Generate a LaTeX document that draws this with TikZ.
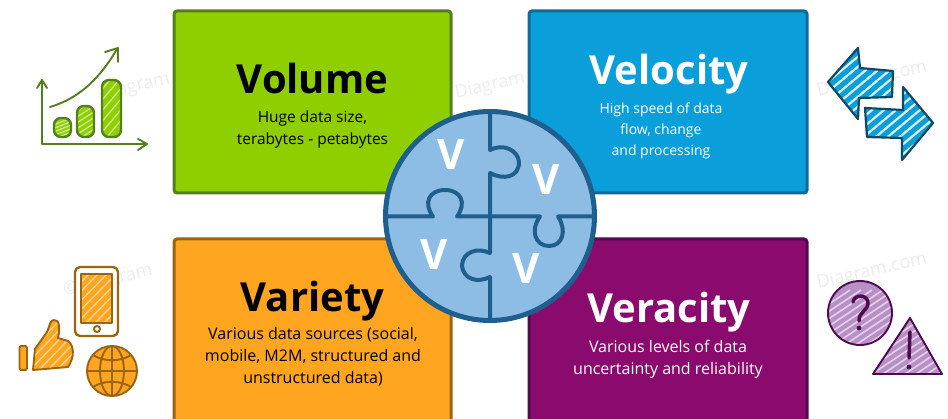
\documentclass[tikz,border=0pt]{standalone}
\usepackage{fontspec}
\setmainfont{Open Sans}
\newcommand{\fs}[1]{\fontsize{#1}{#1}\selectfont}
\definecolor{gF}{HTML}{8FCF00}\definecolor{gD}{HTML}{557F1E}
\definecolor{bF}{HTML}{0A9FDB}\definecolor{bD}{HTML}{0F6A94}
\definecolor{oF}{HTML}{FFA51F}\definecolor{oD}{HTML}{99650F}
\definecolor{pF}{HTML}{8A0A6E}\definecolor{pD}{HTML}{4E0C4E}
\definecolor{cF}{HTML}{8DBDE5}\definecolor{cD}{HTML}{1E5F8E}
\definecolor{pL}{HTML}{B88FC6}\definecolor{wm}{HTML}{EDEDED}
\tikzset{
  card/.style={draw=#1D,fill=#1F,line width=3pt,rounded corners=3pt},
  ttl/.style={font=\bfseries\fs{40},anchor=base,inner sep=0pt},
  body/.style={font=\fs{#1},align=center,anchor=center,inner sep=0pt,execute at begin node=\setlength{\baselineskip}{22pt}},
  vv/.style={font=\bfseries\fs{42},text=white,anchor=center,inner sep=0pt},
  mark text/.style={font=\fs{18},text=wm,rotate=13,anchor=center,inner sep=0pt},
  puz/.style={draw=cD,line width=4pt,line cap=round,line join=round},
  ic/.style={line width=1.9pt,line join=round,line cap=round},
  hatch/.style={draw=white,line width=1.3pt,opacity=.55}
}
\newcommand{\hatching}[4]{% x0 y0 x1 y1 : white diagonal strokes
  \foreach \k in {0,9,...,200}{\draw[hatch] (#1+\k-40,#4) -- (#1+\k+8,#2);}}
\begin{document}
\begin{tikzpicture}[x=1pt,y=-1pt]
\useasboundingbox (0,0) rectangle (948,419);
\clip (0,0) rectangle (948,419);
\fill[white] (0,0) rectangle (948,419);

% watermarks
\node[mark text] (w1) at (135,87) {Diagram};
\node[mark text] (w2) at (490,86) {Diagram};
\node[mark text] (w3) at (872,80) {Diagram.com};
\node[mark text] (w4) at (108,281) {© Diagram};
\node[mark text] (w5) at (872,272) {Diagram.com};

% cards
\draw[card=g] (174,11) rectangle (451,193);
\draw[card=b] (529,11) rectangle (807,193);
\draw[card=o] (174,239) rectangle (451,430);
\draw[card=p] (529,239) rectangle (807,430);

\node[ttl,text=black] (t1) at (312.5,94) {Volume};
\node[ttl,text=white] (t2) at (669,85) {Velocity};
\node[ttl,text=black] (t3) at (312.5,312) {Variety};
\node[ttl,text=white] (t4) at (669,323) {Veracity};

\node[body=15.5,text=black] (b1) at (312.5,129) {Huge data size,\\terabytes - petabytes};
\node[body=14,text=white,execute at begin node=\setlength{\baselineskip}{21pt}] (b2) at (661,131) {High speed of data\\flow, change\\and processing};
\node[body=16,text=black] (b3) at (313,357) {Various data sources (social,\\mobile, M2M, structured and\\unstructured data)};
\node[body=16,text=white] (b4) at (668,359.5) {Various levels of data\\uncertainty and reliability};

% puzzle
\fill[cF] (490,216) circle (106);
\draw[puz] (490,112) -- (490,150)
  .. controls (503,143) and (518,150) .. (519,162)
  .. controls (519,178) and (503,180) .. (490,173)
  -- (490,253)
  .. controls (477,247) and (463,252) .. (462,265)
  .. controls (463,280) and (478,283) .. (490,277)
  -- (490,318);
\draw[puz] (388,216.5) -- (433,216.5)
  .. controls (423,203) and (429,190) .. (445,190)
  .. controls (461,190) and (467,203) .. (457,216.5)
  -- (540,216.5)
  .. controls (530,230) and (535,246) .. (549,246)
  .. controls (563,246) and (567,230) .. (558,216.5)
  -- (593,216.5);
\draw[cD,line width=5pt] (490,216) circle (104.5);
\node[vv] (v1) at (451,155) {V};
\node[vv] (v2) at (546,180) {V};
\node[vv] (v3) at (434,255) {V};
\node[vv] (v4) at (526,269) {V};

% volume icon
\begin{scope}
  \foreach \a/\b/\c/\d in {54/118/71/137,77/106/94/137,102/80/121/137}{
    \fill[gF,rounded corners=6pt] (\a,\b) rectangle (\c,\d);
    \begin{scope}
      \clip[rounded corners=6pt] (\a,\b) rectangle (\c,\d);
      \hatching{\a}{\b}{\c}{\d}
    \end{scope}
    \draw[ic,draw=gD,line width=2.4pt,rounded corners=7pt] (\a,\b) rectangle (\c,\d);
  }
  \draw[ic,draw=gD] (37,88) -- (42,80) -- (47,88);
  \draw[ic,draw=gD] (42,80) -- (42,144) -- (146,144);
  \draw[ic,draw=gD] (138,139) -- (147,144) -- (138,150);
  \draw[ic,draw=gD] (50,107) .. controls (80,98) and (100,78) .. (117,49);
  \draw[ic,draw=gD] (105,52) -- (118,48) -- (118,62);
\end{scope}

% velocity icon
\def\arrowA{(828,82) -- (858,48) -- (860,68) -- (893,71) -- (892,97) -- (859,98) -- (858,119) -- cycle}
\def\arrowB{(865,108) -- (903,110) -- (903,87) -- (933,123) -- (902,160) -- (902,138) -- (867,137) -- cycle}
\fill[bF] \arrowA;
\begin{scope}
  \clip \arrowA;
  \foreach \k in {-70,-58,...,100}{\draw[draw=white,line width=2.2pt,opacity=.85] (780+\k,170) -- (930+\k,45);}
\end{scope}
\draw[ic,draw=bD!70!black,line width=2.2pt] \arrowA;
\fill[bF] \arrowB;
\begin{scope}
  \clip \arrowB;
  \foreach \k in {-40,-28,...,130}{\draw[draw=white,line width=2.2pt,opacity=.85] (780+\k,170) -- (930+\k,45);}
\end{scope}
\draw[ic,draw=bD!70!black,line width=2.2pt] \arrowB;

% variety icon
\draw[ic,draw=oD,fill=white,rounded corners=5pt,line width=2.4pt] (75,267) rectangle (118,336);
\fill[oF] (81,274) rectangle (112,323);
\begin{scope}
  \clip (81,274) rectangle (112,323);
  \hatching{81}{274}{112}{323}
\end{scope}
\draw[ic,draw=oD] (81,274) rectangle (112,323);
\draw[ic,draw=oD] (97,329) circle (3);
\draw[ic,draw=oD,fill=oF,rounded corners=1.5pt] (19.5,346) rectangle (27,370);
\def\hand{(33,370) -- (35,349) -- (47,332) .. controls (50,325) and (50,320) .. (54,320) .. controls (60,319) and (60,330) .. (58,338) -- (68,341) .. controls (74,345) and (75,357) .. (68,367) -- cycle}
\fill[oF] \hand;
\begin{scope}\clip \hand; \hatching{34}{320}{75}{370}\end{scope}
\draw[ic,draw=oD] \hand;
\fill[oF] (112,371) circle (25);
\draw[ic,draw=oD] (112,371) circle (25);
\draw[ic,draw=oD] (112,371) ellipse (12 and 25);
\draw[ic,draw=oD] (112,346) -- (112,396) (87,371) -- (137,371);
\draw[ic,draw=oD] (93,355) .. controls (104,362) and (120,362) .. (131,355);
\draw[ic,draw=oD] (93,387) .. controls (104,380) and (120,380) .. (131,387);

% veracity icon
\fill[pL] (860,313) circle (32);
\begin{scope}
  \clip (860,313) circle (32);
  \foreach \k in {-40,-29,...,110}{\draw[draw=white,line width=1.6pt,opacity=.6] (800+\k,350) -- (890+\k,290);}
\end{scope}
\draw[ic,draw=pD] (860,313) circle (32);
\draw[pD,line width=3.5pt,line cap=round] (853,302) .. controls (854,294) and (868,294) .. (868,303) .. controls (868,311) and (859,311) .. (859,321);
\fill[pD] (859,328) circle (2.4);
\def\trg{(910,318) -- (942,374) -- (873,374) -- cycle}
\fill[pL] \trg;
\begin{scope}
  \clip \trg;
  \foreach \k in {-20,-9,...,110}{\draw[draw=white,line width=1.6pt,opacity=.6] (850+\k,380) -- (940+\k,320);}
\end{scope}
\draw[ic,draw=pD] \trg;
\draw[pD,line width=3.5pt,line cap=round] (910,332) -- (909,358);
\fill[pD] (909,367) circle (2.4);
\end{tikzpicture}
\end{document}
